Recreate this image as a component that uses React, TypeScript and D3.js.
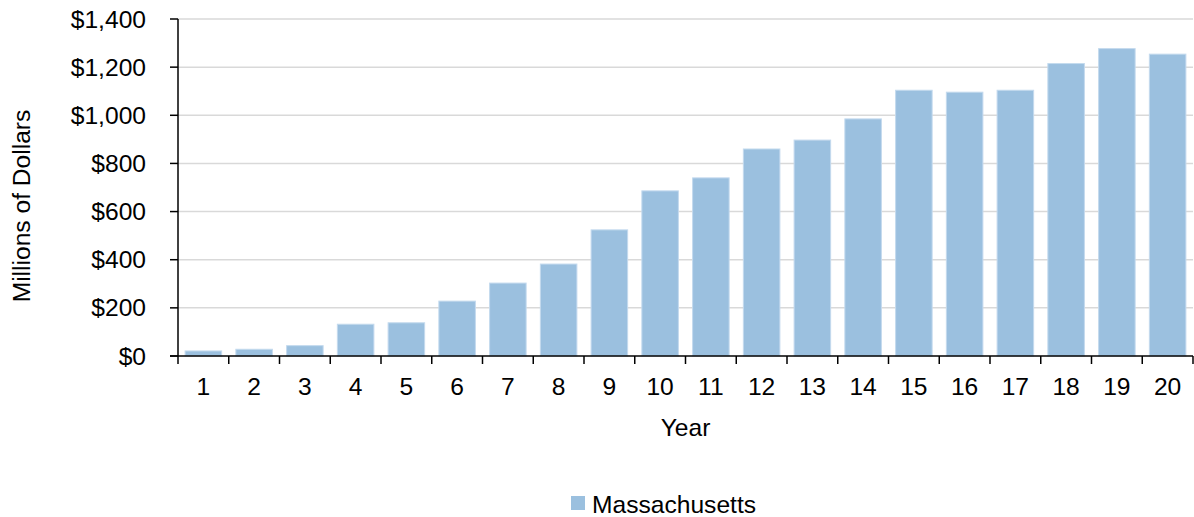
import React from "react";
import * as d3 from "d3";

const years: string[] = ["1","2","3","4","5","6","7","8","9","10","11","12","13","14","15","16","17","18","19","20"];
const massachusetts: number[] = [21, 28, 43, 132, 138, 228, 303, 382, 524, 686, 740, 860, 897, 985, 1104, 1096, 1104, 1215, 1277, 1254];
const yTicks: number[] = [0, 200, 400, 600, 800, 1000, 1200, 1400];
const seriesName = "Massachusetts";
const xTitle = "Year";
const yTitle = "Millions of Dollars";

const W = 1194;
const H = 517;
const left = 178;
const right = 1193;
const top = 19;
const bottom = 356;
const font = "'Liberation Sans', Arial, sans-serif";
const barColor = "#9BC0DF";
const fs = 24.6;

export default function App() {
  const x = d3.scaleBand<string>().domain(years).range([left, right]).paddingInner(0.28).paddingOuter(0.14);
  const y = d3.scaleLinear().domain([0, 1400]).range([bottom, top]);
  const step = x.step();
  const fmt = (v: number) => "$" + d3.format(",")(v);
  return (
    <svg width={W} height={H} style={{ position: "absolute", left: 0, top: 0, display: "block", background: "#fff" }}>
      {yTicks.filter((t) => t > 0).map((t) => (
        <line key={"g" + t} x1={left} x2={right} y1={y(t)} y2={y(t)} stroke="#D9D9D9" strokeWidth={1.5} />
      ))}
      {massachusetts.map((v, i) => (
        <rect key={"b" + i} x={x(years[i])!} y={y(v)} width={x.bandwidth()} height={bottom - y(v)} fill={barColor} stroke="#C4DAEE" strokeWidth={1} />
      ))}
      <line x1={left} x2={left} y1={top} y2={bottom} stroke="#000" strokeWidth={1.5} />
      <line x1={left - 8} x2={right} y1={bottom} y2={bottom} stroke="#000" strokeWidth={1.5} />
      {yTicks.map((t) => (
        <g key={"yt" + t}>
          <line x1={left - 8} x2={left} y1={y(t)} y2={y(t)} stroke="#000" strokeWidth={1.5} />
          <text x={146} y={y(t) + 8.5} textAnchor="end" fontFamily={font} fontSize={fs} fill="#000">{fmt(t)}</text>
        </g>
      ))}
      {years.map((c, i) => (
        <line key={"xt" + i} x1={left + step * i} x2={left + step * i} y1={bottom} y2={bottom + 8} stroke="#000" strokeWidth={1.5} />
      ))}
      <line x1={right} x2={right} y1={bottom} y2={bottom + 8} stroke="#000" strokeWidth={1.5} />
      {years.map((c) => (
        <text key={"xl" + c} x={x(c)! + x.bandwidth() / 2} y={395} textAnchor="middle" fontFamily={font} fontSize={fs} fill="#000">{c}</text>
      ))}
      <text x={(left + right) / 2} y={436} textAnchor="middle" fontFamily={font} fontSize={fs} fill="#000">{xTitle}</text>
      <text transform={`translate(30,206) rotate(-90)`} textAnchor="middle" fontFamily={font} fontSize={fs} fill="#000">{yTitle}</text>
      <rect x={571} y={496} width={14} height={14} fill={barColor} />
      <text x={592} y={513} fontFamily={font} fontSize={fs} fill="#000">{seriesName}</text>
    </svg>
  );
}
